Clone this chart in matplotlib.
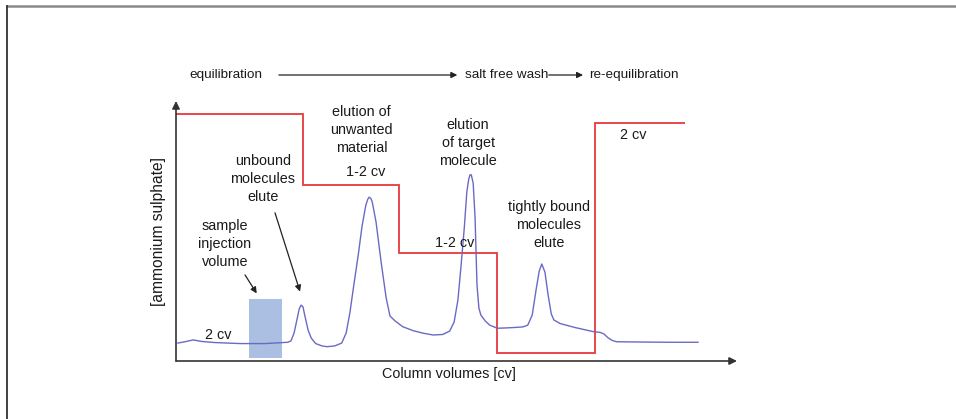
import matplotlib
matplotlib.use("Agg")
import matplotlib.pyplot as plt
from matplotlib.lines import Line2D

plt.rcParams["font.family"] = ["Liberation Sans", "DejaVu Sans"]

# Salt gradient: step edges (column volumes) and relative ammonium sulphate level
salt_edges = [0.0, 2.00, 3.51, 5.05, 6.60, 8.02]
salt_levels = [0.95, 0.676, 0.414, 0.032, 0.914]

# UV absorbance trace (column volumes, relative absorbance)
uv_cv = [0.03, 0.16, 0.27, 0.41, 0.61, 1.01, 1.40, 1.76, 1.81, 1.86, 1.91, 1.94,
         1.97, 2.00, 2.03, 2.08, 2.13, 2.20, 2.30, 2.38, 2.50, 2.61, 2.68, 2.74,
         2.80, 2.87, 2.93, 2.99, 3.02, 3.04, 3.07, 3.09, 3.15, 3.23, 3.31, 3.37,
         3.45, 3.57, 3.73, 3.89, 4.05, 4.20, 4.31, 4.38, 4.44, 4.49, 4.54, 4.58,
         4.61, 4.63, 4.65, 4.68, 4.71, 4.74, 4.77, 4.80, 4.87, 4.94, 5.06, 5.18,
         5.34, 5.46, 5.54, 5.61, 5.67, 5.72, 5.76, 5.81, 5.86, 5.91, 5.95, 6.05,
         6.28, 6.57, 6.68, 6.74, 6.80, 6.87, 6.94, 7.31, 7.78, 8.22]
uv_abs = [0.069, 0.075, 0.081, 0.075, 0.071, 0.067, 0.067, 0.072, 0.077, 0.108,
          0.165, 0.200, 0.215, 0.208, 0.173, 0.119, 0.088, 0.067, 0.058, 0.055,
          0.058, 0.069, 0.108, 0.188, 0.292, 0.408, 0.519, 0.600, 0.622, 0.630,
          0.625, 0.612, 0.535, 0.381, 0.242, 0.173, 0.154, 0.132, 0.117, 0.107,
          0.100, 0.102, 0.115, 0.150, 0.235, 0.369, 0.512, 0.650, 0.700, 0.716,
          0.716, 0.684, 0.550, 0.292, 0.204, 0.177, 0.154, 0.138, 0.126, 0.127,
          0.129, 0.131, 0.138, 0.177, 0.273, 0.346, 0.373, 0.342, 0.254, 0.181,
          0.158, 0.144, 0.129, 0.113, 0.110, 0.104, 0.090, 0.079, 0.074, 0.073,
          0.072, 0.072]

# Sample injection volume
injection_start, injection_end = 1.15, 1.67
injection_height = 0.238
injection_floor = 0.013

FS_TOP = 9.7
FS = 10.4
TXT = "#1a1a1a"

fig = plt.figure(figsize=(9.56, 4.19), dpi=100)
ax = fig.add_axes([176 / 956, 58 / 419, 561 / 956, 260 / 419])
ax.set_xlim(0, 561 / 63.5)
ax.set_ylim(0, 1)
for s in ax.spines.values():
    s.set_visible(False)
ax.set_xticks([])
ax.set_yticks([])
ax.patch.set_alpha(0)

# axis lines with arrowheads
ax.annotate("", xy=(1, 0), xytext=(0, 0), xycoords="axes fraction",
            arrowprops=dict(arrowstyle="-|>", color="#333333", lw=1.2,
                            mutation_scale=11, shrinkA=0, shrinkB=0))
ax.annotate("", xy=(0, 1), xytext=(0, 0), xycoords="axes fraction",
            arrowprops=dict(arrowstyle="-|>", color="#333333", lw=1.2,
                            mutation_scale=11, shrinkA=0, shrinkB=0))

ax.bar(injection_start, injection_height - injection_floor,
       width=injection_end - injection_start, bottom=injection_floor,
       align="edge", color="#aabfe2", lw=0, zorder=1)

ax.plot(uv_cv, uv_abs, color="#6a6ac4", lw=1.0, zorder=3)
ax.stairs(salt_levels, salt_edges, baseline=None, color="#e8383b", lw=1.3, zorder=2)

def label(x, y, s, size=FS):
    ax.text(x, y, s, ha="center", va="center", fontsize=size, color=TXT,
            linespacing=1.38, clip_on=False)

label(0.79, 1.10, "equilibration", FS_TOP)
label(5.20, 1.10, "salt free wash", FS_TOP)
label(7.21, 1.10, "re-equilibration", FS_TOP)
ax.annotate("", xy=(4.43, 1.10), xytext=(1.62, 1.10),
            arrowprops=dict(arrowstyle="-|>", color="#222222", lw=0.9,
                            mutation_scale=9, shrinkA=0, shrinkB=0),
            annotation_clip=False)
ax.annotate("", xy=(6.41, 1.10), xytext=(5.87, 1.10),
            arrowprops=dict(arrowstyle="-|>", color="#222222", lw=0.9,
                            mutation_scale=9, shrinkA=0, shrinkB=0),
            annotation_clip=False)

label(2.92, 0.888, "elution of\nunwanted\nmaterial")
label(2.98, 0.728, "1-2 cv")
label(4.60, 0.838, "elution\nof target\nmolecule")
label(1.37, 0.701, "unbound\nmolecules\nelute")
label(0.77, 0.451, "sample\ninjection\nvolume")
label(0.66, 0.100, "2 cv")
label(4.39, 0.453, "1-2 cv")
label(5.87, 0.524, "tightly bound\nmolecules\nelute")
label(7.20, 0.869, "2 cv")

ax.annotate("", xy=(1.271, 0.260), xytext=(1.087, 0.331),
            arrowprops=dict(arrowstyle="-|>", color="#222222", lw=0.9,
                            mutation_scale=9, shrinkA=0, shrinkB=0))
ax.annotate("", xy=(1.953, 0.267), xytext=(1.559, 0.570),
            arrowprops=dict(arrowstyle="-|>", color="#222222", lw=0.9,
                            mutation_scale=9, shrinkA=0, shrinkB=0))

fig.text(449 / 956, 1 - 374 / 419, "Column volumes [cv]", ha="center", va="center",
         fontsize=FS, color=TXT)
fig.text(159 / 956, 1 - 232 / 419, "[ammonium sulphate]", ha="center", va="center",
         rotation=90, fontsize=11.2, color=TXT)

# outer frame: top rule and left rule
fig.add_artist(Line2D([7 / 956, 1], [1 - 6 / 419, 1 - 6 / 419], color="#8a8a8a",
                      lw=1.8, transform=fig.transFigure))
fig.add_artist(Line2D([7 / 956, 7 / 956], [0, 1 - 6 / 419], color="#333333",
                      lw=1.3, transform=fig.transFigure))

fig.savefig("out.png", dpi=100)
